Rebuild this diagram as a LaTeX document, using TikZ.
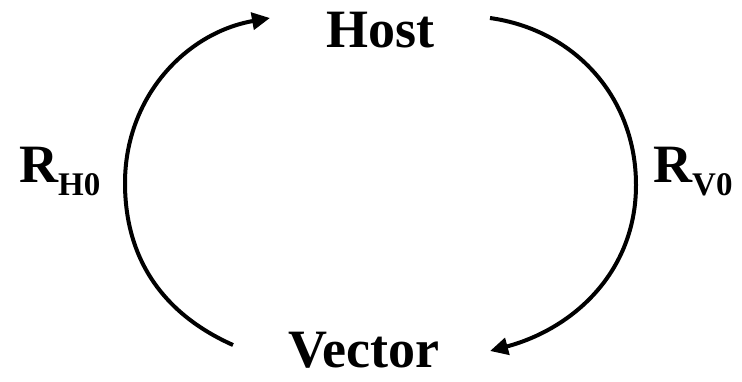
\documentclass[tikz,border=0pt]{standalone}
\usepackage{fontspec}
\setmainfont{Liberation Serif}
\usetikzlibrary{arrows.meta}
\begin{document}
\begin{tikzpicture}[x=1pt,y=1pt,
  lbl/.style={font=\fontsize{54}{60}\selectfont\bfseries, inner sep=0pt},
  cyc/.style={line width=4pt, -{Triangle[length=18pt,width=17pt]}}]
\useasboundingbox (0,0) rectangle (742,-381);
\node[lbl, anchor=base] (host) at (380,-47) {Host};
\node[lbl, anchor=base] (vector) at (364,-367) {Vector};
\node[lbl, anchor=base west] (rh) at (19,-182) {R\raisebox{-13pt}{\fontsize{33}{36}\selectfont H0}};
\node[lbl, anchor=base west] (rv) at (653,-182) {R\raisebox{-13pt}{\fontsize{33}{36}\selectfont V0}};
\coordinate (vl) at (233,-345);
\coordinate (lmid) at (125,-183);
\coordinate (hl) at (270,-18);
\coordinate (hr) at (490,-18);
\coordinate (rmid) at (636,-185);
\coordinate (vr) at (490,-351);
\draw[cyc] (vl) to[out=156,in=-90] (lmid) to[out=90,in=190] (hl);
\draw[cyc] (hr) to[out=-8,in=90] (rmid) to[out=-90,in=15] (vr);
\end{tikzpicture}
\end{document}
